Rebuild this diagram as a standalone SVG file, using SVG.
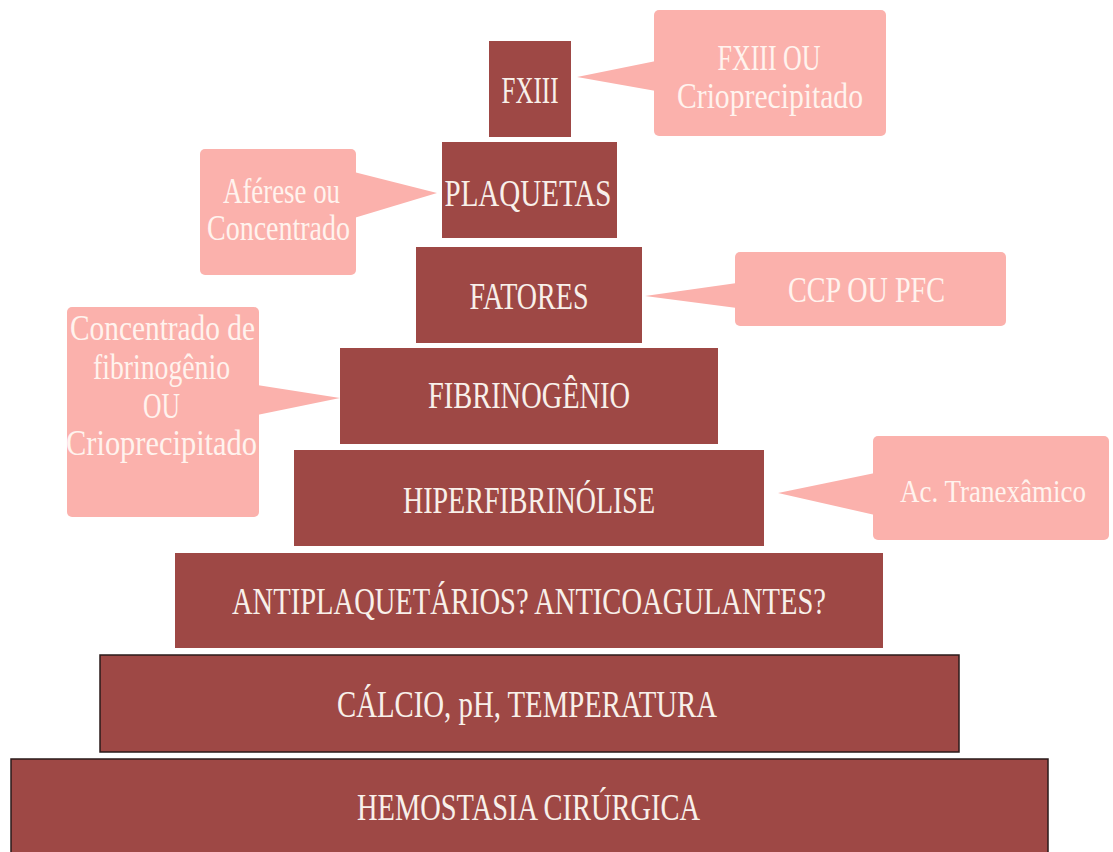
<svg xmlns="http://www.w3.org/2000/svg" width="1113" height="852" viewBox="0 0 1113 852">
<style>
.box{fill:#9E4845;}
.boxs{fill:#9E4845;stroke:#2a1a1a;stroke-width:1.5;}
.call{fill:#FBB1AC;}
.bt{font-family:"Liberation Serif",serif;font-size:37px;fill:#F8F0EA;text-anchor:middle;}
.ct{font-family:"Liberation Serif",serif;font-size:36px;fill:#FFF3EE;text-anchor:middle;}
.ct2{font-size:31px;}
</style>
<rect width="1113" height="852" fill="#ffffff"/>
<g id="connectors">
<polygon class="call" points="577,77 656,61 656,91"/>
<polygon class="call" points="437,193 354,172 354,218"/>
<polygon class="call" points="645,296 737,283 737,308"/>
<polygon class="call" points="340,398 257,385 257,415"/>
<polygon class="call" points="778,493 875,473 875,515"/>
</g>
<g id="n-fxiii"><rect class="box" x="489" y="41" width="82" height="96"/><text class="bt" x="530" y="103" textLength="57" lengthAdjust="spacingAndGlyphs">FXIII</text></g>
<g id="n-plaquetas"><rect class="box" x="442" y="142" width="175" height="96"/><text class="bt" x="528" y="206" textLength="167" lengthAdjust="spacingAndGlyphs">PLAQUETAS</text></g>
<g id="n-fatores"><rect class="box" x="416" y="247" width="226" height="96"/><text class="bt" x="529" y="309" textLength="119" lengthAdjust="spacingAndGlyphs">FATORES</text></g>
<g id="n-fibrinogenio"><rect class="box" x="340" y="348" width="378" height="96"/><text class="bt" x="529" y="408" textLength="202" lengthAdjust="spacingAndGlyphs">FIBRINOGÊNIO</text></g>
<g id="n-hiper"><rect class="box" x="294" y="450" width="470" height="96"/><text class="bt" x="529" y="513" textLength="252" lengthAdjust="spacingAndGlyphs">HIPERFIBRINÓLISE</text></g>
<g id="n-anti"><rect class="box" x="175" y="553" width="708" height="95"/><text class="bt" x="529" y="614" textLength="594" lengthAdjust="spacingAndGlyphs">ANTIPLAQUETÁRIOS? ANTICOAGULANTES?</text></g>
<g id="n-calcio"><rect class="boxs" x="100" y="655" width="859" height="97"/><text class="bt" x="527" y="717" textLength="380" lengthAdjust="spacingAndGlyphs">CÁLCIO, pH, TEMPERATURA</text></g>
<g id="n-hemostasia"><rect class="boxs" x="11" y="759" width="1037" height="110"/><text class="bt" x="528.5" y="820" textLength="343" lengthAdjust="spacingAndGlyphs">HEMOSTASIA CIRÚRGICA</text></g>
<g id="c-fxiii"><rect class="call" x="654" y="10" width="232" height="126" rx="5"/><text class="ct" x="769" y="70" textLength="103" lengthAdjust="spacingAndGlyphs">FXIII OU</text><text class="ct" x="770" y="108" textLength="186" lengthAdjust="spacingAndGlyphs">Crioprecipitado</text></g>
<g id="c-plaquetas"><rect class="call" x="200" y="149" width="156" height="126" rx="5"/><text class="ct" x="281.5" y="203" textLength="117" lengthAdjust="spacingAndGlyphs">Aférese ou</text><text class="ct" x="278.5" y="240" textLength="143" lengthAdjust="spacingAndGlyphs">Concentrado</text></g>
<g id="c-fatores"><rect class="call" x="735" y="252" width="271" height="74" rx="5"/><text class="ct" x="866.5" y="302" textLength="157" lengthAdjust="spacingAndGlyphs">CCP OU PFC</text></g>
<g id="c-fibrinogenio"><rect class="call" x="67" y="307" width="192" height="210" rx="5"/><text class="ct" x="162.5" y="340" textLength="185" lengthAdjust="spacingAndGlyphs">Concentrado de</text><text class="ct" x="161.5" y="379" textLength="137" lengthAdjust="spacingAndGlyphs">fibrinogênio</text><text class="ct" x="161.5" y="418" textLength="37" lengthAdjust="spacingAndGlyphs">OU</text><text class="ct" x="161.5" y="455" textLength="191" lengthAdjust="spacingAndGlyphs">Crioprecipitado</text></g>
<g id="c-hiper"><rect class="call" x="873" y="436" width="236" height="104" rx="5"/><text class="ct ct2" x="993" y="502" textLength="186" lengthAdjust="spacingAndGlyphs">Ac. Tranexâmico</text></g>
</svg>
